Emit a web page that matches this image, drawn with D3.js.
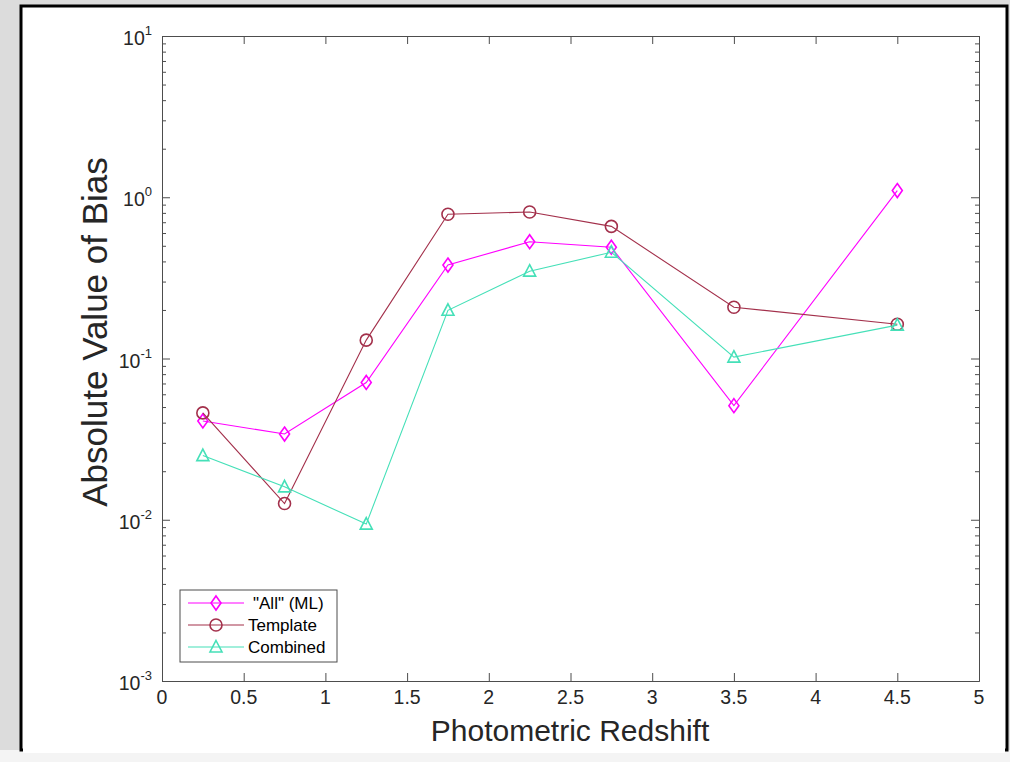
<!DOCTYPE html>
<html>
<head>
<meta charset="utf-8">
<script src="https://cdn.jsdelivr.net/npm/d3@7"></script>
<style>
  body { margin: 0; background: #dcdcdc; }
  svg { display: block; font-family: "Liberation Sans", Arial, sans-serif; }
</style>
</head>
<body>
<div id="chart"></div>
<script>
// redshift bins
var redshift = [0.25, 0.75, 1.25, 1.75, 2.25, 2.75, 3.5, 4.5];
// absolute bias per method
var allML    = [0.041, 0.034, 0.071, 0.38, 0.53, 0.49, 0.051, 1.10];
var template = [0.046, 0.0126, 0.13, 0.785, 0.81, 0.66, 0.208, 0.163];
var combined = [0.025, 0.016, 0.0094, 0.199, 0.348, 0.456, 0.102, 0.161];
var seriesNames = ['"All" (ML)', 'Template', 'Combined'];
var xTicks = [0, 0.5, 1, 1.5, 2, 2.5, 3, 3.5, 4, 4.5, 5];
var yExps = [-3, -2, -1, 0, 1];

var W = 1010, H = 762;
var m = {left: 162, top: 36, right: 979, bottom: 681};

var svg = d3.select("#chart").append("svg")
  .attr("width", W).attr("height", H);

// window frame
svg.append("rect").attr("x", 0).attr("y", 750).attr("width", W).attr("height", 12).attr("fill", "#f4f4f4");
svg.append("rect").attr("x", 21).attr("y", 6).attr("width", 986).attr("height", 744)
  .attr("fill", "#fff").attr("stroke", "#000").attr("stroke-width", 3);
svg.append("rect").attr("x", 23).attr("y", 8).attr("width", 982).attr("height", 745).attr("fill", "#fff");

var x = d3.scaleLinear().domain([0, 5]).range([m.left, m.right]);
var y = d3.scaleLog().domain([1e-3, 10]).range([m.bottom, m.top]);

var axisCol = "#4d4d4d";
var textCol = "#262626";

// minor log ticks
var minor = [];
yExps.slice(0, -1).forEach(function(e) {
  for (var k = 2; k <= 9; k++) minor.push(k * Math.pow(10, e));
});
var major = yExps.map(function(e) { return Math.pow(10, e); });

function styleAxis(g) {
  g.select(".domain").attr("stroke", axisCol);
  g.selectAll(".tick line").attr("stroke", axisCol);
}

// bottom & top x axes
svg.append("g").attr("transform", "translate(0," + m.bottom + ")")
  .call(d3.axisBottom(x).tickValues(xTicks).tickSizeInner(-8).tickSizeOuter(0).tickFormat(""))
  .call(styleAxis);
svg.append("g").attr("transform", "translate(0," + m.top + ")")
  .call(d3.axisTop(x).tickValues(xTicks).tickSizeInner(-8).tickSizeOuter(0).tickFormat(""))
  .call(styleAxis);

// x tick labels
svg.selectAll(null).data(xTicks).enter().append("text")
  .attr("x", function(d) { return x(d); }).attr("y", m.bottom + 23)
  .attr("text-anchor", "middle").attr("font-size", 19.5).attr("fill", textCol)
  .text(function(d) { return d3.format("")(d); });

// left & right y axes (major + minor)
svg.append("g").attr("transform", "translate(" + m.left + ",0)")
  .call(d3.axisLeft(y).tickValues(major).tickSizeInner(-8).tickSizeOuter(0).tickFormat(""))
  .call(styleAxis);
svg.append("g").attr("transform", "translate(" + m.left + ",0)")
  .call(d3.axisLeft(y).tickValues(minor).tickSizeInner(-4).tickSizeOuter(0).tickFormat(""))
  .call(styleAxis);
svg.append("g").attr("transform", "translate(" + m.right + ",0)")
  .call(d3.axisRight(y).tickValues(major).tickSizeInner(-8).tickSizeOuter(0).tickFormat(""))
  .call(styleAxis);
svg.append("g").attr("transform", "translate(" + m.right + ",0)")
  .call(d3.axisRight(y).tickValues(minor).tickSizeInner(-4).tickSizeOuter(0).tickFormat(""))
  .call(styleAxis);

// y tick labels as 10^n
yExps.forEach(function(e) {
  var t = svg.append("text")
    .attr("x", m.left - 10).attr("y", y(Math.pow(10, e)) + 9)
    .attr("text-anchor", "end").attr("font-size", 19.5).attr("fill", textCol);
  t.append("tspan").text("10");
  t.append("tspan").attr("dy", -10).attr("font-size", 13).text(String(e));
});

// axis titles
svg.append("text").attr("x", 570).attr("y", 741)
  .attr("text-anchor", "middle").attr("font-size", 30).attr("fill", textCol)
  .text("Photometric Redshift");
svg.append("text").attr("transform", "translate(107,332) rotate(-90)")
  .attr("text-anchor", "middle").attr("font-size", 35).attr("fill", textCol)
  .text("Absolute Value of Bias");

// series
var series = [
  {name: seriesNames[0], vals: allML, color: "#ff00ff", shape: "diamond"},
  {name: seriesNames[1], vals: template, color: "#a3304b", shape: "circle"},
  {name: seriesNames[2], vals: combined, color: "#45e0b8", shape: "triangle"}
];

function marker(sel, shape, color) {
  if (shape === "circle") {
    sel.append("circle").attr("r", 6);
  } else if (shape === "diamond") {
    sel.append("path").attr("d", "M0,-7L5,0L0,7L-5,0Z");
  } else {
    sel.append("path").attr("d", "M0,-6.5L6,5L-6,5Z");
  }
  sel.selectAll("circle,path").attr("fill", "none").attr("stroke", color).attr("stroke-width", 1.6);
}

var line = d3.line().x(function(d) { return x(d[0]); }).y(function(d) { return y(d[1]); });

series.forEach(function(s) {
  var pts = redshift.map(function(r, i) { return [r, s.vals[i]]; });
  svg.append("path").datum(pts).attr("d", line)
    .attr("fill", "none").attr("stroke", s.color).attr("stroke-width", 1.1);
  svg.selectAll(null).data(pts).enter().append("g")
    .attr("transform", function(d) { return "translate(" + x(d[0]) + "," + y(d[1]) + ")"; })
    .each(function() { marker(d3.select(this), s.shape, s.color); });
});

// legend
var lg = svg.append("g").attr("transform", "translate(180,590)");
lg.append("rect").attr("width", 157).attr("height", 72)
  .attr("fill", "#fff").attr("stroke", axisCol).attr("stroke-width", 1);
series.forEach(function(s, i) {
  var row = lg.append("g").attr("transform", "translate(0," + (13 + i * 22) + ")");
  row.append("line").attr("x1", 8).attr("x2", 64).attr("y1", 0).attr("y2", 0)
    .attr("stroke", s.color).attr("stroke-width", 1.1);
  var mk = row.append("g").attr("transform", "translate(36,0)");
  marker(mk, s.shape, s.color);
  row.append("text").attr("x", i === 0 ? 73 : 68).attr("y", 6)
    .attr("font-size", 17).attr("fill", "#000").text(s.name);
});
</script>
</body>
</html>
